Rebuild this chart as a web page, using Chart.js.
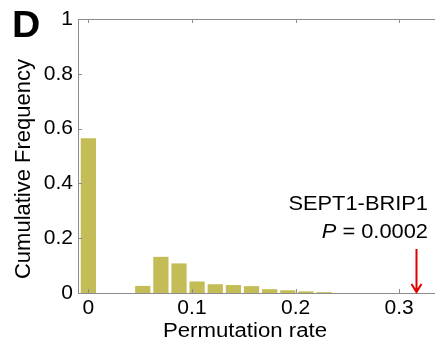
<!DOCTYPE html>
<html>
<head>
<meta charset="utf-8">
<script src="https://cdn.jsdelivr.net/npm/chart.js@4/dist/chart.umd.min.js"></script>
<style>
    html, body { margin: 0; padding: 0; background: #fff; }
    #wrap { width: 435px; height: 341px; position: relative; }
</style>
</head>
<body>
<div id="wrap"><canvas id="chartPerm"></canvas></div>
<script>
/* ========== DADOS ========== */
const binCenters = [0, 0.0175, 0.035, 0.0525, 0.07, 0.0875, 0.105, 0.1225, 0.14, 0.1575, 0.175, 0.1925, 0.21, 0.2275];
const frequency = [0.565, 0, 0, 0.026, 0.132, 0.108, 0.042, 0.032, 0.029, 0.025, 0.014, 0.010, 0.006, 0.003];
const xTicks = [0, 0.1, 0.2, 0.3];
const yTicks = [0, 0.2, 0.4, 0.6, 0.8, 1];
const observedRate = 0.316;
const pairName = 'SEPT1-BRIP1';
const pValue = '0.0002';

const FONT = 'Liberation Sans, Arial, sans-serif';
const AXIS = '#8c8c8c';

// texto levemente esticado na horizontal, como na figura original
function wideText(c, txt, x, y, sx, align) {
    c.save();
    c.translate(x, y);
    c.scale(sx, 1);
    c.textAlign = align;
    c.fillText(txt, 0, 0);
    c.restore();
}

/* ========== MOLDURA, TÍTULOS E SETA ========== */
const extras = {
    id: 'extras',
    afterDraw(chart) {
        const c = chart.ctx;
        const a = chart.chartArea;
        const x = chart.scales.x, y = chart.scales.y;
        c.save();
        c.strokeStyle = AXIS;
        c.lineWidth = 1;
        c.beginPath();
        c.moveTo(a.left, a.top + 0.5);
        c.lineTo(a.right, a.top + 0.5);
        xTicks.forEach(v => {
            const px = Math.round(x.getPixelForValue(v)) + 0.5;
            c.moveTo(px, a.top); c.lineTo(px, a.top + 4);
            c.moveTo(px, a.bottom); c.lineTo(px, a.bottom - 4);
        });
        yTicks.forEach(v => {
            const py = Math.round(y.getPixelForValue(v)) + 0.5;
            c.moveTo(a.left, py); c.lineTo(a.left + 4, py);
        });
        c.stroke();

        // títulos dos eixos
        c.fillStyle = '#000';
        c.textBaseline = 'alphabetic';
        c.font = '20px ' + FONT;
        wideText(c, 'Permutation rate', 245, 337, 1.11, 'center');
        c.font = '22px ' + FONT;
        c.save();
        c.translate(30, 169);
        c.rotate(-Math.PI / 2);
        c.textAlign = 'center';
        c.fillText('Cumulative Frequency', 0, 0);
        c.restore();

        // letra do painel
        c.font = 'bold 37px ' + FONT;
        wideText(c, 'D', 12, 37, 1.06, 'left');

        // anotação
        c.font = '21px ' + FONT;
        wideText(c, pairName, 428, 210, 1.04, 'right');
        const rest = ' = ' + pValue;
        const wRest = c.measureText(rest).width * 1.04;
        wideText(c, rest, 428, 238, 1.04, 'right');
        c.font = 'italic 21px ' + FONT;
        wideText(c, 'P', 428 - wRest, 238, 1.04, 'right');

        // seta vermelha
        const ax = Math.round(x.getPixelForValue(observedRate)) + 0.5;
        c.strokeStyle = '#e00000';
        c.lineWidth = 2;
        c.beginPath();
        c.moveTo(ax, 249);
        c.lineTo(ax, a.bottom - 1);
        c.moveTo(ax - 5, a.bottom - 9);
        c.lineTo(ax, a.bottom - 1);
        c.lineTo(ax + 5, a.bottom - 9);
        c.stroke();
        c.restore();
    }
};

/* ========== GRÁFICO ========== */
const ctx = document.getElementById('chartPerm').getContext('2d');
new Chart(ctx, {
    type: 'bar',
    data: {
        datasets: [{
            data: binCenters.map((b, i) => ({ x: b, y: frequency[i] })),
            backgroundColor: '#c4bc56',
            barPercentage: 0.84,
            categoryPercentage: 1
        }]
    },
    options: {
        responsive: true,
        maintainAspectRatio: false,
        animation: false,
        layout: { padding: { top: 19, right: 0, left: 0, bottom: 0 } },
        plugins: {
            legend: { display: false },
            tooltip: { enabled: false }
        },
        scales: {
            x: {
                type: 'linear',
                min: -0.01,
                max: 0.3346,
                offset: false,
                afterBuildTicks: s => { s.ticks = xTicks.map(v => ({ value: v })); },
                afterFit: s => { s.height = 48; },
                grid: { display: false, drawTicks: false },
                border: { display: true, color: AXIS, width: 1 },
                ticks: {
                    color: '#000',
                    padding: 3,
                    maxRotation: 0,
                    font: { family: FONT, size: 21 },
                    callback: v => String(v)
                }
            },
            y: {
                min: 0,
                max: 1,
                afterBuildTicks: s => { s.ticks = yTicks.map(v => ({ value: v })); },
                afterFit: s => { s.width = 78; },
                grid: { display: false, drawTicks: false },
                border: { display: true, color: AXIS, width: 1 },
                ticks: {
                    color: '#000',
                    padding: 5,
                    font: { family: FONT, size: 21 },
                    callback: v => String(v)
                }
            }
        }
    },
    plugins: [extras]
});
</script>
</body>
</html>
